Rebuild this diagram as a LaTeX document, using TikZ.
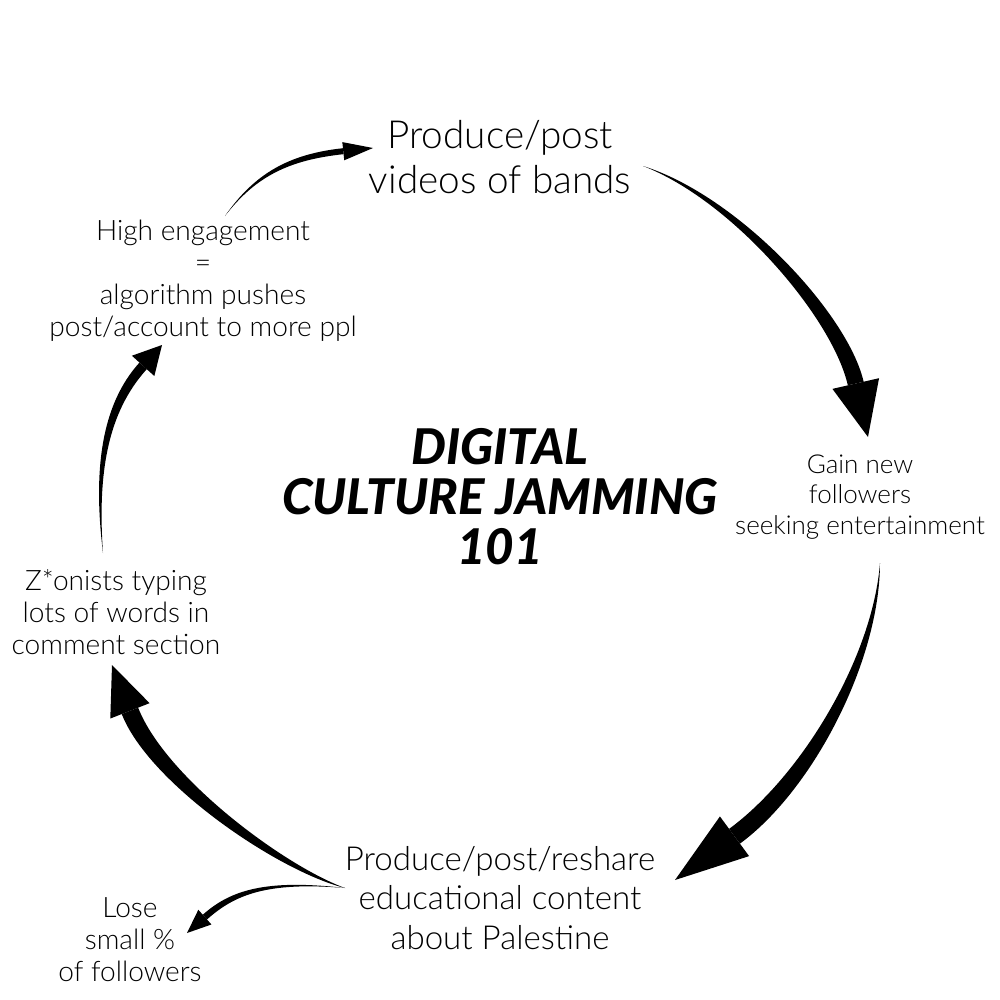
\documentclass[tikz,border=0pt]{standalone}
\usepackage{fontspec}
\usepackage{tikz}
\usetikzlibrary{calc}
\IfFontExistsTF{Lato Light}{\setmainfont{Lato Light}}{\setmainfont{Lato}}
\IfFontExistsTF{Lato Black Italic}
  {\newfontfamily\titlefamily{Lato Black Italic}\newcommand{\titlefnt}{\titlefamily}}
  {\newfontfamily\titlefamily{Lato}\newcommand{\titlefnt}{\titlefamily\bfseries\itshape}}
% tapered arrow: start, ctrl 1, ctrl 2, tip, body half width, head half width, head length
\newcommand{\taperarrow}[7]{%
  \coordinate (tb) at ($(#4)!#7!(#3)$);
  \fill (#1) .. controls ($(#2)!0.45*#5!-90:(#3)$) and ($(#3)!#5!-90:(tb)$) .. ($(tb)!#5!90:(#3)$)
    -- ($(tb)!#5!-90:(#3)$) .. controls ($(#3)!#5!90:(tb)$) and ($(#2)!0.45*#5!90:(#3)$) .. (#1) -- cycle;
  \fill ($(tb)!#6!90:(#3)$) -- (#4) -- ($(tb)!#6!-90:(#3)$) -- cycle;
}
\tikzset{
  bigtext/.style={align=center,inner sep=2pt,font=\fontsize{11}{12.8}\selectfont},
  midtext/.style={align=center,inner sep=2pt,font=\fontsize{9.4}{11.2}\selectfont},
  steptext/.style={align=center,inner sep=2pt,font=\fontsize{8}{9.1}\selectfont},
  smalltext/.style={align=center,inner sep=2pt,font=\fontsize{7.4}{8.6}\selectfont},
  headline/.style={align=center,inner sep=2pt,font=\titlefnt\fontsize{14}{14.2}\selectfont}
}
\begin{document}
\begin{tikzpicture}[x=0.01cm,y=-0.01cm]
  \useasboundingbox (0,0) rectangle (1000,1000);

  \node[headline] (title) at (500,497) {DIGITAL\\CULTURE JAMMING\\101};

  \node[bigtext] (bands) at (500,157) {Produce/post\\videos of bands};
  \node[smalltext] (gain) at (860,497) {Gain new\\followers\\seeking entertainment};
  \node[midtext] (edu) at (500,898) {Produce/post/reshare\\educational content\\about Palestine};
  \node[steptext] (lose) at (130,940) {Lose\\small \%\\of followers};
  \node[steptext] (zion) at (116,612) {Z*onists typing\\lots of words in\\comment section};
  \node[steptext] (engage) at (203,281)
    {High engagement\\=\\algorithm pushes\\post/account to more ppl};

  % arrow ends
  \coordinate (engage-out) at (225,216);
  \coordinate (bands-in) at (373,148);
  \coordinate (bands-out) at (643,166);
  \coordinate (gain-in) at (868,437);
  \coordinate (gain-out) at (880,563);
  \coordinate (edu-in) at (675,880);
  \coordinate (edu-out) at (345,888);
  \coordinate (zion-in) at (112,665);
  \coordinate (lose-in) at (187,933);
  \coordinate (zion-out) at (103,553);
  \coordinate (engage-in) at (162,345);

  \taperarrow{engage-out}{255,175}{289,157}{bands-in}{0.85pt}{2.6pt}{8.5pt}
  \taperarrow{bands-out}{735,198}{840,315}{gain-in}{2.3pt}{6.8pt}{15.6pt}
  \taperarrow{gain-out}{876,660}{807,783}{edu-in}{2.6pt}{7pt}{21pt}
  \taperarrow{edu-out}{280,868}{157,780}{zion-in}{2.5pt}{6pt}{14pt}
  \taperarrow{edu-out}{265,880}{232,893}{lose-in}{0.9pt}{2.8pt}{6.8pt}
  \taperarrow{zion-out}{95,470}{105,408}{engage-in}{1.4pt}{4.3pt}{8pt}
\end{tikzpicture}
\end{document}
